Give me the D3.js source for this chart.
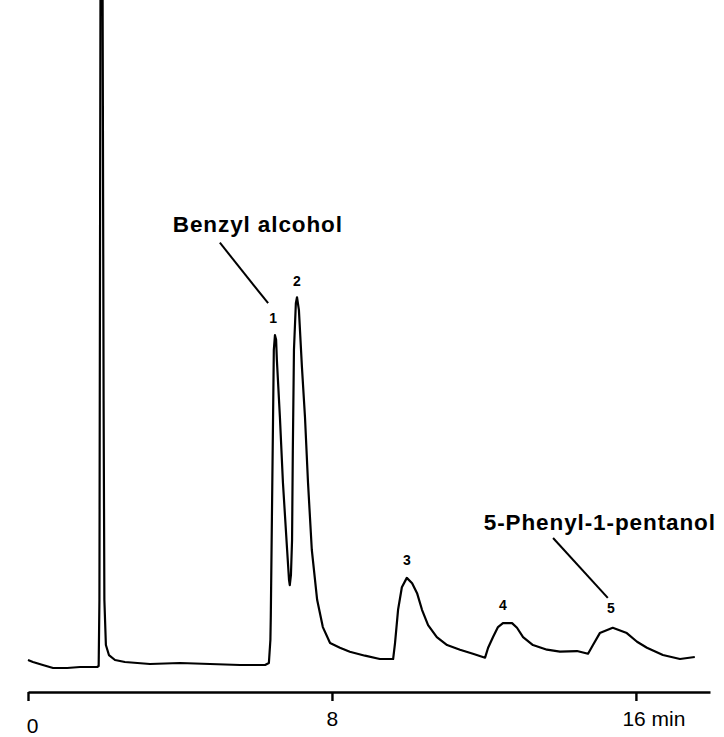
<!DOCTYPE html>
<html><head><meta charset="utf-8">
<script src="https://cdn.jsdelivr.net/npm/d3@7"></script>
<style>
html,body{margin:0;padding:0;background:#fff;}
svg{display:block;}
text{font-family:"Liberation Sans",Arial,Helvetica,sans-serif;fill:#000;}
</style></head>
<body>
<svg id="chart" width="724" height="737"></svg>
<script>
// Retention time (min) of trace samples
const times = [0,0.13,0.39,0.66,1.03,1.37,1.82,1.86,1.88,1.91,1.96,1.99,2.01,2.05,2.13,2.29,2.55,3.21,4.0,4.79,5.58,6.24,6.34,6.38,6.39,6.42,6.45,6.47,6.50,6.53,6.55,6.63,6.71,6.82,6.87,6.89,6.92,6.95,6.97,7.0,7.05,7.08,7.13,7.21,7.29,7.37,7.47,7.61,7.76,7.95,8.21,8.47,8.87,9.26,9.61,9.66,9.74,9.84,9.97,10.11,10.24,10.37,10.53,10.76,11.03,11.37,11.71,12.03,12.11,12.24,12.37,12.5,12.74,12.87,13.03,13.29,13.66,14.0,14.45,14.74,14.87,15.05,15.39,15.76,16.03,16.29,16.71,17.16,17.55];
// Detector response (relative units)
const signal = [0.75,0.45,0,-0.45,-0.45,-0.3,-0.3,-0.15,9.8,109,109,39.8,9.8,3.0,1.5,0.75,0.45,0.15,0.3,0.15,0,0,0.3,3.8,7.2,22.3,37.3,47.4,49.6,48.9,45.9,37.3,27.4,17.3,12.8,12.0,13.5,18.8,32.3,47.4,54.4,55.3,53.4,44.8,37.3,27.4,17.3,9.8,5.7,3.3,2.6,2.0,1.4,0.9,0.9,3.3,8.3,11.7,13.1,12.3,10.8,8.3,6.0,4.2,3.0,2.3,1.7,1.1,2.6,4.2,5.7,6.3,6.3,5.6,4.2,3.0,2.3,2.0,2.1,1.7,3.0,4.8,5.6,4.8,3.5,2.6,1.5,0.9,1.2];

// Peak numbers and label anchors (baseline of the number)
const peakLabels = ["1","2","3","4","5"];
const peakLabelTimes = [6.45,7.08,9.97,12.5,15.34];
const peakLabelSignal = [51.4,57.0,15.0,8.3,7.8];

// Compound annotations
const annotTexts = ["Benzyl alcohol","5-Phenyl-1-pentanol"];
const annotTextTimes = [6.05,15.05];
const annotTextSignal = [65.1,20.3];
const leaderStartTimes = [5.05,13.82];
const leaderStartSignal = [63.5,19.1];
const leaderEndTimes = [6.32,15.26];
const leaderEndSignal = [54.4,10.1];

// Axis ticks
const tickValues = [0,8,16];
const tickLabels = ["0","8","16 min"];

const svg = d3.select("#chart");
const x = d3.scaleLinear().domain([0,17.95]).range([28,710]);
const y = d3.scaleLinear().domain([0,100]).range([665,0]);

const pts = times.map((t,i)=>[t,signal[i]]);
svg.append("defs").append("clipPath").attr("id","clip")
  .append("rect").attr("x",0).attr("y",0).attr("width",724).attr("height",737);

svg.append("path")
  .datum(pts)
  .attr("clip-path","url(#clip)")
  .attr("fill","none")
  .attr("stroke","#000")
  .attr("stroke-width",2.2)
  .attr("stroke-linejoin","round")
  .attr("d",d3.line().x(d=>x(d[0])).y(d=>y(d[1])));

// x axis
const axis = d3.axisBottom(x)
  .tickValues(tickValues)
  .tickSize(9)
  .tickSizeOuter(0)
  .tickPadding(10)
  .tickFormat((d,i)=>tickLabels[i]);
const gx = svg.append("g").attr("transform","translate(0,692)").call(axis);
gx.select(".domain").attr("stroke","#000").attr("stroke-width",2.6);
gx.selectAll(".tick line").attr("stroke","#000").attr("stroke-width",2.4);
gx.selectAll(".tick text")
  .style("font-size","21px")
  .style("font-family","'Liberation Sans',Arial,sans-serif")
  .attr("fill","#000")
  .attr("text-anchor",(d,i)=> i===2 ? "start" : "middle")
  .attr("dx",(d,i)=> i===2 ? -14 : (i===0 ? 4 : 0))
  .attr("y",(d,i)=> i===0 ? 26 : 19)
  .attr("dy","0.71em");

// peak number labels
svg.selectAll(".pl").data(peakLabels).enter().append("text")
  .attr("class","pl")
  .attr("x",(d,i)=>x(peakLabelTimes[i]))
  .attr("y",(d,i)=>y(peakLabelSignal[i]))
  .attr("text-anchor","middle")
  .style("font-size","14px")
  .style("font-weight","bold")
  .text(d=>d);

// leader lines
svg.selectAll(".ld").data(annotTexts).enter().append("line")
  .attr("class","ld")
  .attr("x1",(d,i)=>x(leaderStartTimes[i]))
  .attr("y1",(d,i)=>y(leaderStartSignal[i]))
  .attr("x2",(d,i)=>x(leaderEndTimes[i]))
  .attr("y2",(d,i)=>y(leaderEndSignal[i]))
  .attr("stroke","#000").attr("stroke-width",2);

// compound names
svg.selectAll(".an").data(annotTexts).enter().append("text")
  .attr("class","an")
  .attr("x",(d,i)=>x(annotTextTimes[i]))
  .attr("y",(d,i)=>y(annotTextSignal[i]))
  .attr("text-anchor","middle")
  .style("font-size","22.5px")
  .style("font-weight","bold")
  .style("letter-spacing","0.9px")
  .text(d=>d);
</script>
</body></html>
